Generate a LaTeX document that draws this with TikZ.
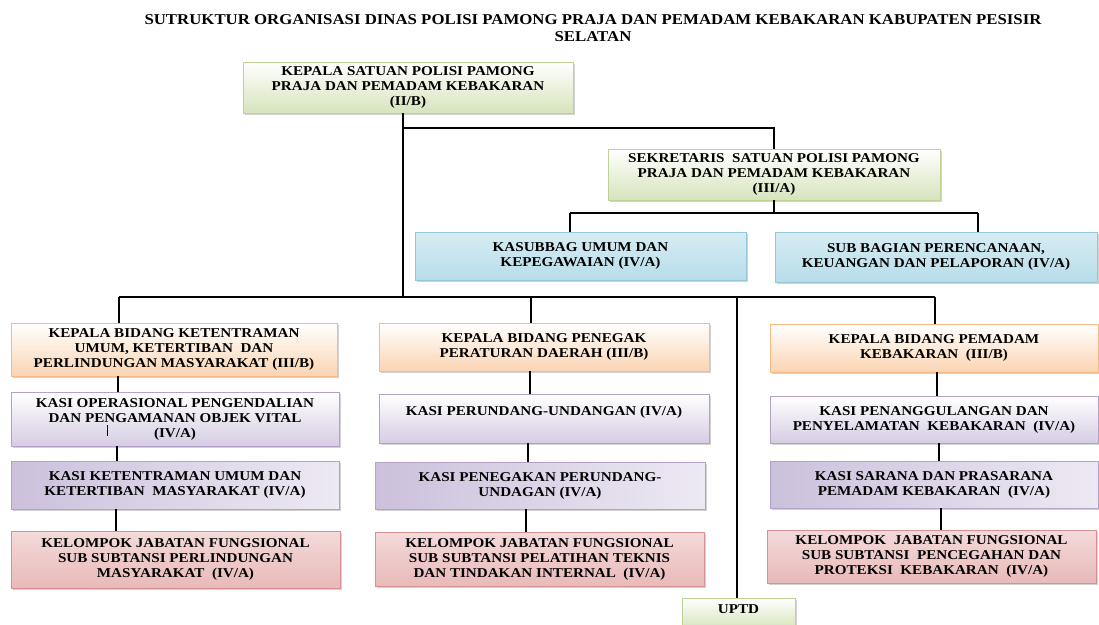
\documentclass[tikz,border=0pt]{standalone}
\usepackage{fontspec}
\setmainfont{Liberation Serif}[FakeStretch=1.12]
\usetikzlibrary{positioning, shadows}

\definecolor{hijau}{RGB}{214,228,188}
\definecolor{hijaugaris}{RGB}{190,210,150}
\definecolor{biru}{RGB}{183,221,234}
\definecolor{birugaris}{RGB}{150,198,216}
\definecolor{oranye}{RGB}{251,212,178}
\definecolor{oranyegaris}{RGB}{244,186,136}
\definecolor{ungu}{RGB}{204,192,220}
\definecolor{ungugaris}{RGB}{178,162,199}
\definecolor{merah}{RGB}{226,162,162}
\definecolor{merahgaris}{RGB}{214,146,146}

\begin{document}
\begin{tikzpicture}[x=1pt, y=-1pt,
        kotak/.style={draw, line width=0.9pt, align=center, inner sep=2pt,
                font=\bfseries\fontsize{13.5}{15}\selectfont,
                drop shadow={shadow xshift=2pt, shadow yshift=-2pt, fill=black!35}},
        kepala/.style={kotak, draw=hijaugaris, top color=white, bottom color=hijau},
        subbag/.style={kotak, draw=birugaris, top color=biru!55, bottom color=biru},
        bidang/.style={kotak, draw=oranyegaris, top color=white, bottom color=oranye},
        kasi/.style={kotak, draw=ungugaris, top color=white, bottom color=ungu!80},
        kasib/.style={kotak, draw=ungugaris, left color=ungu, right color=ungu!35},
        pokja/.style={kotak, draw=merahgaris, top color=merah!40, bottom color=merah!75},
        garis/.style={line width=2.4pt}]
        \useasboundingbox (0,0) rectangle (1099,624);

        % judul
        \node[align=center, font=\bfseries\fontsize{15}{17}\selectfont] (judul) at (593,28.5)
                {SUTRUKTUR ORGANISASI DINAS POLISI PAMONG PRAJA DAN PEMADAM KEBAKARAN KABUPATEN PESISIR\\SELATAN};

        % pimpinan dan sekretariat
        \node[kepala, minimum width=330pt, minimum height=51pt] (kasat) at (408,87.5)
                {KEPALA SATUAN POLISI PAMONG\\PRAJA DAN PEMADAM KEBAKARAN\\(II/B)};
        \node[kepala, minimum width=332pt, minimum height=51pt] (sekre) at (774,174.5)
                {SEKRETARIS\ \ SATUAN POLISI PAMONG\\PRAJA DAN PEMADAM KEBAKARAN\\(III/A)};
        \node[subbag, minimum width=331pt, minimum height=48pt] (umum) at (580.5,256)
                {KASUBBAG UMUM DAN\\KEPEGAWAIAN (IV/A)};
        \node[subbag, minimum width=322pt, minimum height=50pt] (renc) at (936,257)
                {SUB BAGIAN PERENCANAAN,\\KEUANGAN DAN PELAPORAN (IV/A)};

        % bidang ketentraman
        \node[bidang, minimum width=326pt, minimum height=53pt] (bid1) at (174,349.5)
                {KEPALA BIDANG KETENTRAMAN\\UMUM, KETERTIBAN\ \ DAN\\PERLINDUNGAN MASYARAKAT (III/B)};
        \node[kasi, minimum width=328pt, minimum height=54pt] (kasi1a) at (175,419)
                {KASI OPERASIONAL PENGENDALIAN\\DAN PENGAMANAN OBJEK VITAL\\(IV/A)};
        \node[kasib, minimum width=328pt, minimum height=48pt] (kasi1b) at (175,485)
                {KASI KETENTRAMAN UMUM DAN\\KETERTIBAN\ \ MASYARAKAT (IV/A)};
        \node[pokja, minimum width=329pt, minimum height=57pt] (pokja1) at (175.5,559.5)
                {KELOMPOK JABATAN FUNGSIONAL\\SUB SUBTANSI PERLINDUNGAN\\MASYARAKAT\ \ (IV/A)};

        % bidang penegak perda
        \node[bidang, minimum width=330pt, minimum height=48pt] (bid2) at (544,347)
                {KEPALA BIDANG PENEGAK\\PERATURAN DAERAH (III/B)};
        \node[kasi, minimum width=330pt, minimum height=49pt] (kasi2a) at (544,418.5)
                {KASI PERUNDANG-UNDANGAN (IV/A)\\~};
        \node[kasib, minimum width=330pt, minimum height=47pt] (kasi2b) at (540,485.5)
                {KASI PENEGAKAN PERUNDANG-\\UNDAGAN (IV/A)};
        \node[pokja, minimum width=329pt, minimum height=54pt] (pokja2) at (539.5,559)
                {KELOMPOK JABATAN FUNGSIONAL\\SUB SUBTANSI PELATIHAN TEKNIS\\DAN TINDAKAN INTERNAL\ \ (IV/A)};

        % bidang pemadam
        \node[bidang, minimum width=328pt, minimum height=48pt] (bid3) at (934,348)
                {KEPALA BIDANG PEMADAM\\KEBAKARAN\ \ (III/B)};
        \node[kasi, minimum width=328pt, minimum height=47pt] (kasi3a) at (934,419.5)
                {KASI PENANGGULANGAN DAN\\PENYELAMATAN\ \ KEBAKARAN\ \ (IV/A)};
        \node[kasib, minimum width=328pt, minimum height=47pt] (kasi3b) at (934,484.5)
                {KASI SARANA DAN PRASARANA\\PEMADAM KEBAKARAN\ \ (IV/A)};
        \node[pokja, minimum width=329pt, minimum height=53pt] (pokja3) at (931.5,556.5)
                {KELOMPOK\ \ JABATAN FUNGSIONAL\\SUB SUBTANSI\ \ PENCEGAHAN DAN\\PROTEKSI\ \ KEBAKARAN\ \ (IV/A)};

        \node[kepala, minimum width=113pt, minimum height=30pt, text depth=8pt] (uptd) at (738.5,613) {UPTD};

        % titik cabang
        \coordinate (c1) at (403,128);
        \coordinate (c2) at (570,213);
        \coordinate (c3) at (978,213);
        \coordinate (b1) at (119,297);
        \coordinate (b2) at (531,297);
        \coordinate (b3) at (737,297);
        \coordinate (b4) at (935,297);

        % garis
        \draw[garis] (kasat.south -| c1) -- (b1 -| c1);
        \draw[garis] (c1) -| (sekre.north);
        \draw[garis] (sekre.south) -- (c2 -| sekre.south);
        \draw[garis] (c2) -- (c3);
        \draw[garis] (c2) -- (umum.north -| c2);
        \draw[garis] (c3) -- (renc.north -| c3);
        \draw[garis] (b1) -- (b4);
        \draw[garis] (b1) -- (bid1.north -| b1);
        \draw[garis] (b2) -- (bid2.north -| b2);
        \draw[garis] (b3) -- (uptd.north -| b3);
        \draw[garis] (b4) -- (bid3.north -| b4);
        \foreach \a/\b/\x in {bid1/kasi1a/118, kasi1a/kasi1b/117, kasi1b/pokja1/116,
                bid2/kasi2a/530, kasi2a/kasi2b/528, kasi2b/pokja2/526,
                bid3/kasi3a/937, kasi3a/kasi3b/939, kasi3b/pokja3/941}
                \draw[garis] (\a.south -| \x,0) -- (\b.north -| \x,0);
        \draw[line width=0.8pt] (107,425) -- (107,436);
\end{tikzpicture}
\end{document}
